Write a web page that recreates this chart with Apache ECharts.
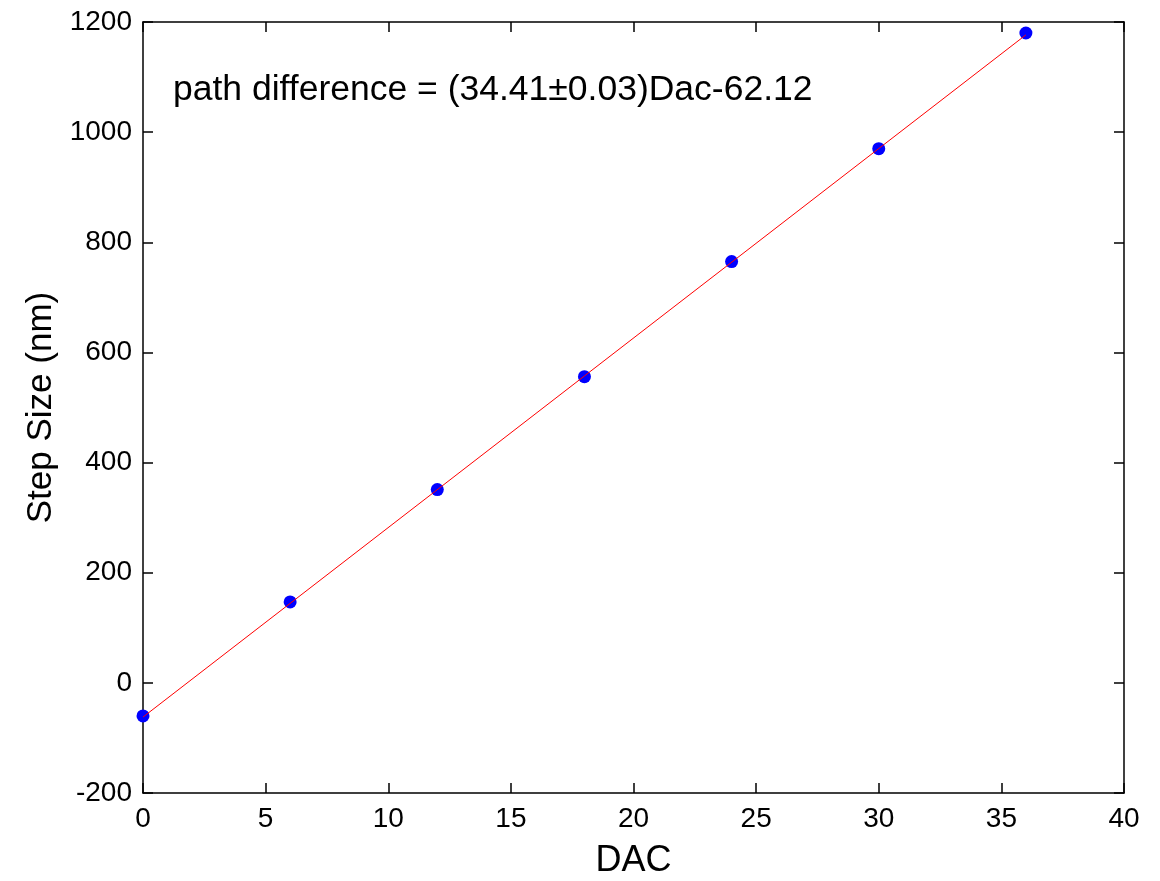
<!DOCTYPE html>
<html>
<head>
<meta charset="utf-8">
<script src="https://cdn.jsdelivr.net/npm/echarts@6/dist/echarts.min.js"></script>
<style>
html,body{margin:0;padding:0;background:#fff;}
#chart{width:1160px;height:881px;}
</style>
</head>
<body>
<div id="chart"></div>
<script>
// Measured data (DAC vs step size)
const dacValues = [0, 6, 12, 18, 24, 30, 36];
const stepSizes = [-60, 147, 351, 556, 765, 970, 1180];
// Fitted line end points
const fitX = [0, 36];
const fitY = [-62.12, 1176.64];
// Axis settings
const xTicks = { min: 0, max: 40, interval: 5 };
const yTicks = { min: -200, max: 1200, interval: 200 };
const annotationText = 'path difference = (34.41\u00b10.03)Dac-62.12';
const xName = 'DAC';
const yName = 'Step Size (nm)';

const FONT = '"Liberation Sans", Arial, sans-serif';
const chart = echarts.init(document.getElementById('chart'), null, {renderer: 'canvas'});

const axisLine = {show: true, onZero: false, lineStyle: {color: '#000', width: 1.5}};
const axisTick = {show: true, inside: true, length: 10, lineStyle: {color: '#000', width: 1.5}};
const plain = v => String(v);

function mirrorAxis(base, pos) {
  return Object.assign({}, base, {
    position: pos,
    name: '',
    axisLabel: {show: false},
    axisLine: axisLine,
    axisTick: axisTick,
    splitLine: {show: false}
  });
}

const xBase = {type: 'value', min: xTicks.min, max: xTicks.max, interval: xTicks.interval};
const yBase = {type: 'value', min: yTicks.min, max: yTicks.max, interval: yTicks.interval};

chart.setOption({
  animation: false,
  backgroundColor: '#fff',
  grid: {left: 143, right: 36, top: 22, bottom: 88, containLabel: false, outerBoundsMode: 'none'},
  xAxis: [
    Object.assign({}, xBase, {
      position: 'bottom',
      name: xName,
      nameLocation: 'middle',
      nameGap: 50,
      nameTextStyle: {fontFamily: FONT, fontSize: 36, color: '#000'},
      axisLine: axisLine,
      axisTick: axisTick,
      axisLabel: {fontFamily: FONT, fontSize: 28, color: '#000', margin: 12, formatter: plain},
      splitLine: {show: false}
    }),
    mirrorAxis(xBase, 'top')
  ],
  yAxis: [
    Object.assign({}, yBase, {
      position: 'left',
      name: yName,
      nameLocation: 'middle',
      nameGap: 78,
      nameRotate: 90,
      nameTextStyle: {fontFamily: FONT, fontSize: 35, color: '#000'},
      axisLine: axisLine,
      axisTick: axisTick,
      axisLabel: {fontFamily: FONT, fontSize: 28, color: '#000', margin: 11, formatter: plain},
      splitLine: {show: false}
    }),
    mirrorAxis(yBase, 'right')
  ],
  graphic: [{
    type: 'text',
    left: 173,
    top: 72,
    style: {text: annotationText, font: '35.5px ' + FONT, fill: '#000'}
  }],
  series: [
    {
      type: 'scatter',
      xAxisIndex: 0, yAxisIndex: 0,
      data: dacValues.map((d, i) => [d, stepSizes[i]]),
      symbol: 'circle',
      symbolSize: 13,
      itemStyle: {color: '#0000ff', opacity: 1},
      z: 2
    },
    {
      type: 'line',
      xAxisIndex: 0, yAxisIndex: 0,
      data: fitX.map((d, i) => [d, fitY[i]]),
      showSymbol: false,
      symbol: 'none',
      lineStyle: {color: '#ff0000', width: 1},
      z: 3
    }
  ]
});
</script>
</body>
</html>
